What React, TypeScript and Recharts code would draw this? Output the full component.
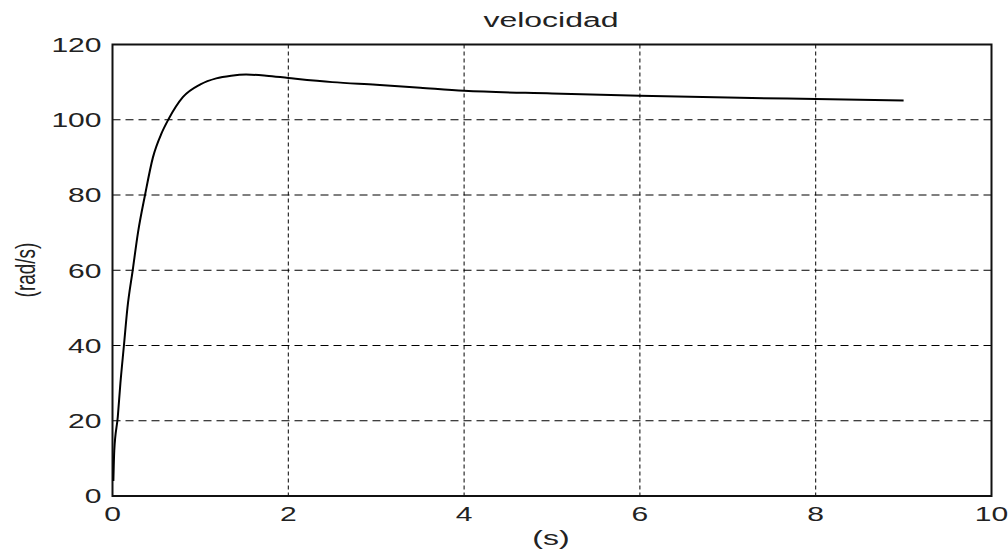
import React from 'react';
import { LineChart, Line, XAxis, YAxis, CartesianGrid, ReferenceArea, Customized } from 'recharts';

// time (s) and speed (rad/s)
const times = [0.01, 0.02, 0.06, 0.09, 0.13, 0.17, 0.23, 0.29, 0.37, 0.46, 0.56, 0.634, 0.8, 1.0, 1.18, 1.35, 1.52, 1.75, 2.0, 2.5, 3.0, 3.5, 4.0, 5.0, 6.0, 7.0, 8.0, 9.0];
const speeds = [4, 12, 21, 30, 40, 50, 60, 70, 80, 90, 96.5, 100, 106, 109.4, 111, 111.7, 112, 111.7, 111.1, 110, 109.3, 108.5, 107.7, 107, 106.4, 105.9, 105.5, 105.1];
const xTicks = [0, 2, 4, 6, 8, 10];
const yTicks = [0, 20, 40, 60, 80, 100, 120];

const data = times.map((t, i) => ({ t, v: speeds[i] }));

const FONT = '"Liberation Sans", Arial, sans-serif';

const YTick = (props: any) => {
  const { x, y, payload } = props;
  return (
    <g transform={`translate(${x},${y}) scale(1.43,1)`}>
      <text textAnchor="end" dy="0.355em" fontSize={21} fill="#222" fontFamily={FONT}>
        {payload.value}
      </text>
    </g>
  );
};

const XTick = (props: any) => {
  const { x, y, payload } = props;
  return (
    <g transform={`translate(${x},${y}) scale(1.43,1)`}>
      <text textAnchor="middle" dy="0.71em" fontSize={21} fill="#222" fontFamily={FONT}>
        {payload.value}
      </text>
    </g>
  );
};

const Labels = () => (
  <g fontFamily={FONT} fill="#222">
    <text transform="translate(551,27) scale(1.6,1)" textAnchor="middle" fontSize={20}>velocidad</text>
    <text transform="translate(551,545) scale(1.6,1)" textAnchor="middle" fontSize={20}>(s)</text>
    <text transform="translate(25,270) scale(1.5,1) rotate(-90)" textAnchor="middle" dominantBaseline="central" fontSize={19}>(rad/s)</text>
  </g>
);

export default function App() {
  return (
    <div style={{ position: 'absolute', left: 0, top: 0, width: 1008, height: 550, background: '#fff' }}>
      <LineChart width={1008} height={550} data={data} margin={{ top: 44.5, right: 16.5, bottom: 24, left: 0 }}>
        <CartesianGrid horizontal vertical={false} stroke="#000" strokeDasharray="8 5" />
        <CartesianGrid horizontal={false} vertical stroke="#000" strokeDasharray="4 3" />
        <XAxis
          dataKey="t"
          type="number"
          domain={[0, 10]}
          ticks={xTicks}
          height={30}
          axisLine={false}
          tickLine={false}
          tickSize={0}
          tickMargin={10}
          tick={<XTick />}
        />
        <YAxis
          type="number"
          domain={[0, 120]}
          ticks={yTicks}
          width={112.5}
          axisLine={false}
          tickLine={false}
          tickSize={0}
          tickMargin={11}
          tick={<YTick />}
        />
        <ReferenceArea x1={0} x2={10} y1={0} y2={120} fill="none" stroke="#111" strokeWidth={2} ifOverflow="visible" />
        <Line
          type="monotone"
          dataKey="v"
          stroke="#000"
          strokeWidth={2}
          dot={false}
          isAnimationActive={false}
        />
        <Customized component={Labels} />
      </LineChart>
    </div>
  );
}
